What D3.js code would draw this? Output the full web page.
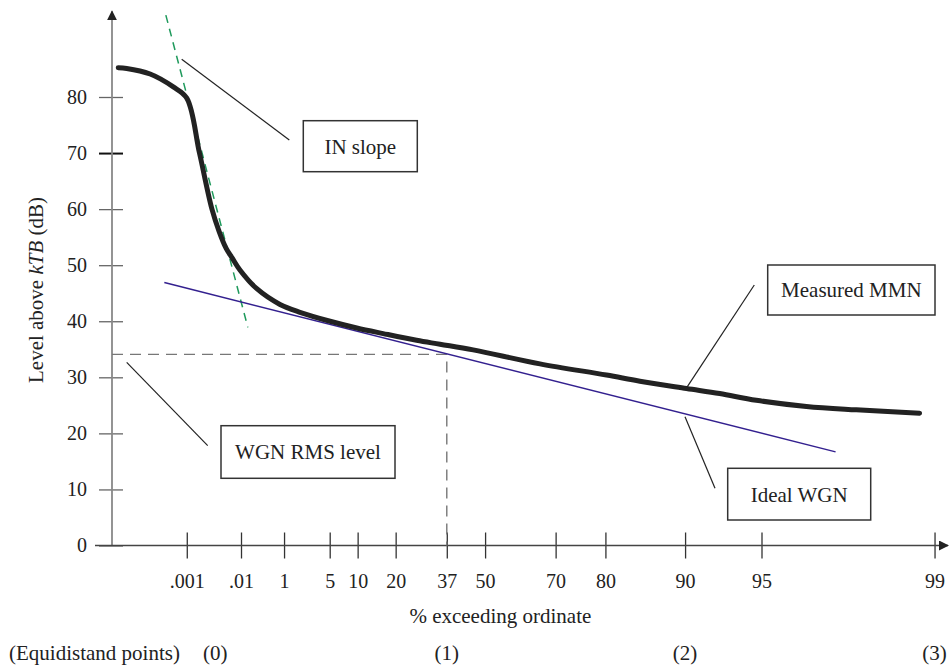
<!DOCTYPE html>
<html>
<head>
<meta charset="utf-8">
<script src="https://cdn.jsdelivr.net/npm/d3@7"></script>
<style>
  body { margin: 0; background: #fff; }
  text { font-family: "Liberation Serif", "Times New Roman", serif; fill: #222; }
</style>
</head>
<body>
<div id="svg"></div>
<script>
// x values of the curves are in "equidistant points" units (0 = .001 %, 3 = 99 %)
var mmnX = [-0.275, -0.241, -0.147, -0.054, 0.000, 0.051, 0.101, 0.130, 0.158, 0.182, 0.214, 0.281, 0.374,
    0.454, 0.575, 0.682, 0.788, 0.922, 1.016, 1.149, 1.417, 1.684, 1.818, 2.005, 2.138, 2.285, 2.486, 2.686, 2.940];
var mmnDb = [85.2, 85.1, 84.1, 81.8, 79.8, 70.0, 60.0, 56.0, 53.0, 51.3, 49.1, 45.8, 43.0,
    41.6, 40.0, 38.8, 37.8, 36.6, 35.9, 34.9, 32.4, 30.4, 29.3, 28.0, 27.1, 25.9, 24.8, 24.2, 23.6];

var wgnX = [-0.090, 2.603];
var wgnDb = [46.9, 16.7];

var slopeX = [-0.084, 0.245];
var slopeDb = [94.6, 38.9];

var rmsLevel = 34.1;
var rmsPercent = 37;

// % exceeding ticks and their printed labels
var xTickPercent = [0.001, 0.1, 1, 5, 10, 20, 37, 50, 70, 80, 90, 95, 99];
var xTickLabels = [".001", ".01", "1", "5", "10", "20", "37", "50", "70", "80", "90", "95", "99"];
var eqPercent = [0.015, 37, 90, 99];
var eqLabels = ["(0)", "(1)", "(2)", "(3)"];
var yTicks = [0, 10, 20, 30, 40, 50, 60, 70, 80];

var width = 950, height = 666;

// Rayleigh-type transform of % exceeding into equidistant units
function ray(p) { return Math.log10(-Math.log(p / 100)); }
var rayUnit = (ray(0.001) - ray(99)) / 3;
function toU(p) { return (ray(0.001) - ray(p)) / rayUnit; }

var x = d3.scaleLinear().domain([-0.3, 3.05]).range([112, 947]);
var y = d3.scaleLinear().domain([0, 80]).range([545.5, 97]);

var svg = d3.select("#svg").append("svg")
    .attr("width", width)
    .attr("height", height);

var defs = svg.append("defs");
defs.append("marker")
    .attr("id", "arrow")
    .attr("viewBox", "0 0 10 10")
    .attr("refX", 9).attr("refY", 5)
    .attr("markerWidth", 10).attr("markerHeight", 10)
    .attr("markerUnits", "userSpaceOnUse")
    .attr("orient", "auto")
    .append("path")
    .attr("d", "M0,0L10,5L0,10Z")
    .attr("fill", "#222");

// y axis
var yAxis = svg.append("g")
    .attr("transform", "translate(" + x(-0.3) + ",0)")
    .call(d3.axisLeft(y).tickValues(yTicks).tickSizeInner(13).tickSizeOuter(0).tickPadding(12));
yAxis.select(".domain").remove();
yAxis.selectAll(".tick line")
    .attr("x1", 11)
    .attr("stroke", function(d) { return d === 70 ? "#111" : "#666"; })
    .attr("stroke-width", function(d) { return d === 70 ? 2 : 1.3; });
yAxis.selectAll(".tick text")
    .style("font-size", "20px")
    .attr("fill", "#222");
svg.append("line")
    .attr("x1", x(-0.3)).attr("x2", x(-0.3))
    .attr("y1", y(0)).attr("y2", y(95.3))
    .attr("stroke", "#888")
    .attr("stroke-width", 1.8)
    .attr("marker-end", "url(#arrow)");

// x axis
var xAxis = svg.append("g")
    .attr("transform", "translate(0," + y(0) + ")")
    .call(d3.axisBottom(x)
        .tickValues(xTickPercent.map(toU))
        .tickFormat(function(d, i) { return xTickLabels[i]; })
        .tickSizeInner(13).tickSizeOuter(0).tickPadding(15));
xAxis.select(".domain").remove();
xAxis.selectAll(".tick line")
    .attr("y1", -13)
    .attr("stroke", "#333")
    .attr("stroke-width", 1.3);
xAxis.selectAll(".tick text")
    .style("font-size", "20px")
    .attr("fill", "#222");
svg.append("line")
    .attr("x1", 95).attr("x2", x(3.05) + 1)
    .attr("y1", y(0)).attr("y2", y(0))
    .attr("stroke", "#444")
    .attr("stroke-width", 1.3)
    .attr("marker-end", "url(#arrow)");

// axis titles
svg.append("text")
    .attr("x", (x(toU(20)) + x(toU(90))) / 2 - 40)
    .attr("y", 623)
    .attr("text-anchor", "middle")
    .style("font-size", "21px")
    .text("% exceeding ordinate");

var yLabel = svg.append("text")
    .attr("transform", "translate(43,290) rotate(-90)")
    .attr("text-anchor", "middle")
    .style("font-size", "21px");
yLabel.append("tspan").text("Level above ");
yLabel.append("tspan").style("font-style", "italic").text("kTB");
yLabel.append("tspan").text(" (dB)");

// equidistant points row
svg.append("text")
    .attr("x", 9)
    .attr("y", 660)
    .style("font-size", "21px")
    .text("(Equidistand points)");
svg.selectAll(".eq").data(eqPercent)
    .enter().append("text")
    .attr("class", "eq")
    .attr("x", function(d) { return x(toU(d)); })
    .attr("y", 660)
    .attr("text-anchor", "middle")
    .style("font-size", "21px")
    .text(function(d, i) { return eqLabels[i]; });

// WGN RMS level guide
svg.append("path")
    .attr("d", "M" + x(-0.3) + "," + y(rmsLevel) + "H" + x(toU(rmsPercent)) + "V" + y(0))
    .attr("fill", "none")
    .attr("stroke", "#777")
    .attr("stroke-width", 1.4)
    .attr("stroke-dasharray", "11,7");

var line = d3.line()
    .x(function(d) { return x(d[0]); })
    .y(function(d) { return y(d[1]); });

// IN slope
svg.append("path")
    .attr("d", line(d3.zip(slopeX, slopeDb)))
    .attr("fill", "none")
    .attr("stroke", "#1f9a5c")
    .attr("stroke-width", 1.5)
    .attr("stroke-dasharray", "8,6");

// ideal WGN
svg.append("path")
    .attr("d", line(d3.zip(wgnX, wgnDb)))
    .attr("fill", "none")
    .attr("stroke", "#33208f")
    .attr("stroke-width", 1.5);

// measured MMN
svg.append("path")
    .attr("d", line.curve(d3.curveCatmullRom.alpha(0.5))(d3.zip(mmnX, mmnDb)))
    .attr("fill", "none")
    .attr("stroke", "#222")
    .attr("stroke-width", 5)
    .attr("stroke-linejoin", "round")
    .attr("stroke-linecap", "round");

// callouts: pointer from, pointer to, box
var callouts = [
    { text: "IN slope", from: [181.7, 59.3], to: [289.3, 140], box: [303.3, 120.7, 114, 51] },
    { text: "WGN RMS level", from: [126.7, 362.3], to: [207.7, 445.7], box: [221, 425.7, 174, 52.6] },
    { text: "Measured MMN", from: [686.7, 387.7], to: [754.3, 285], box: [767.7, 265, 167.3, 50] },
    { text: "Ideal WGN", from: [685, 416.7], to: [715, 488.3], box: [727.7, 468.3, 143, 51.7] }
];

var co = svg.selectAll(".callout").data(callouts)
    .enter().append("g")
    .attr("class", "callout");
co.append("line")
    .attr("x1", function(d) { return d.from[0]; })
    .attr("y1", function(d) { return d.from[1]; })
    .attr("x2", function(d) { return d.to[0]; })
    .attr("y2", function(d) { return d.to[1]; })
    .attr("stroke", "#222")
    .attr("stroke-width", 1.2);
co.append("rect")
    .attr("x", function(d) { return d.box[0]; })
    .attr("y", function(d) { return d.box[1]; })
    .attr("width", function(d) { return d.box[2]; })
    .attr("height", function(d) { return d.box[3]; })
    .attr("fill", "#fff")
    .attr("stroke", "#333")
    .attr("stroke-width", 1.5);
co.append("text")
    .attr("x", function(d) { return d.box[0] + d.box[2] / 2; })
    .attr("y", function(d) { return d.box[1] + d.box[3] / 2; })
    .attr("dy", "0.35em")
    .attr("text-anchor", "middle")
    .style("font-size", "21px")
    .text(function(d) { return d.text; });
</script>
</body>
</html>
